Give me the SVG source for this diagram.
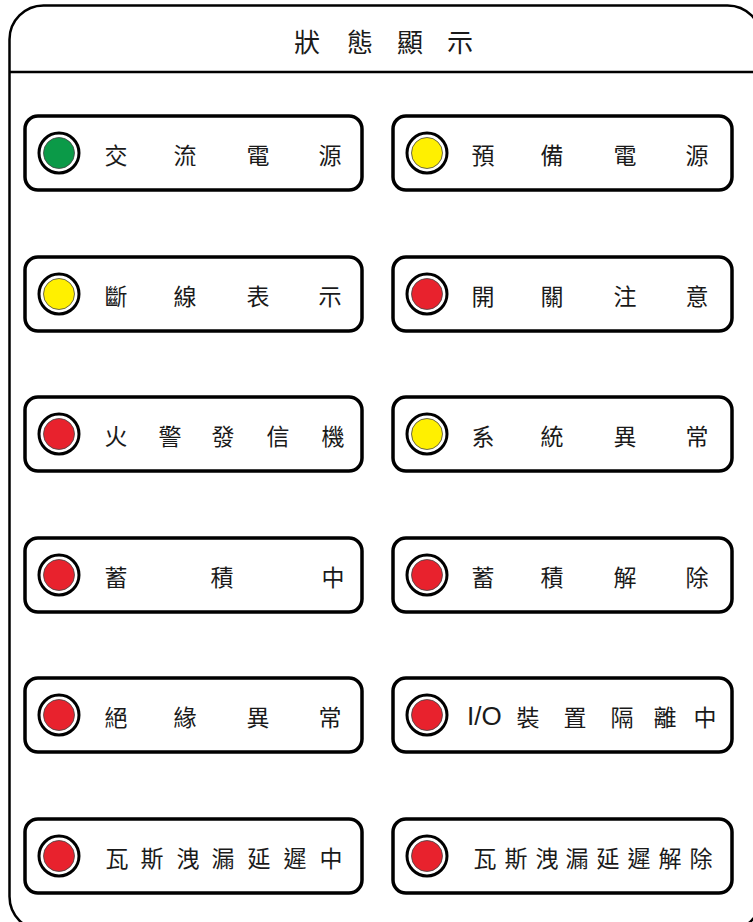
<svg xmlns="http://www.w3.org/2000/svg" width="753" height="922" viewBox="0 0 753 922">
<style>
.frame{fill:#fff;stroke:#000;stroke-width:2.5}
.box{fill:#fff;stroke:#000;stroke-width:3.5}
.ring{fill:#fff;stroke:#000;stroke-width:3}
.lamp{stroke:#444;stroke-width:0.8}
.g{fill:#0b9a48}.y{fill:#fff000}.r{fill:#e8222d}
.t{font-family:"Noto Sans CJK TC","Noto Sans CJK SC",sans-serif;font-size:23px;fill:#1a1a1a;text-anchor:middle}
.ttl{font-family:"Noto Sans CJK TC","Noto Sans CJK SC",sans-serif;font-size:26px;fill:#1a1a1a;text-anchor:middle}
.io{font-family:"Liberation Sans","DejaVu Sans",sans-serif;font-size:26px;fill:#1a1a1a}
</style>
<defs>
<g id="lampR"><circle class="ring" r="20"/><circle class="lamp r" r="15.5"/></g>
<g id="lampY"><circle class="ring" r="20"/><circle class="lamp y" r="15.5"/></g>
<g id="lampG"><circle class="ring" r="20"/><circle class="lamp g" r="15.5"/></g>
</defs>
<rect width="753" height="922" fill="#fff"/>
<g id="panel">
<rect class="frame" x="9.5" y="5.5" width="752" height="925" rx="34"/>
<line x1="9.5" y1="72" x2="753" y2="72" stroke="#000" stroke-width="2.5"/>
<text class="ttl" x="307 360 410 460" y="52">狀態顯示</text>
</g>
<g id="connectors"/>
<g id="n1"><rect class="box" x="25" y="116" width="337" height="74" rx="13"/><use href="#lampG" x="59" y="153"/><text class="t" x="116 185 258 330" y="164">交流電源</text></g>
<g id="n2"><rect class="box" x="393" y="116" width="339" height="74" rx="13"/><use href="#lampY" x="427" y="153"/><text class="t" x="483 552 625 697" y="164">預備電源</text></g>
<g id="n3"><rect class="box" x="25" y="257" width="337" height="74" rx="13"/><use href="#lampY" x="59" y="294"/><text class="t" x="116 185 258 330" y="305">斷線表示</text></g>
<g id="n4"><rect class="box" x="393" y="257" width="339" height="74" rx="13"/><use href="#lampR" x="427" y="294"/><text class="t" x="483 552 625 697" y="305">開關注意</text></g>
<g id="n5"><rect class="box" x="25" y="397" width="337" height="74" rx="13"/><use href="#lampR" x="59" y="434"/><text class="t" x="116 170 223 278 333" y="445">火警發信機</text></g>
<g id="n6"><rect class="box" x="393" y="397" width="339" height="74" rx="13"/><use href="#lampY" x="427" y="434"/><text class="t" x="483 552 625 697" y="445">系統異常</text></g>
<g id="n7"><rect class="box" x="25" y="538" width="337" height="74" rx="13"/><use href="#lampR" x="59" y="575"/><text class="t" x="116 222 333" y="586">蓄積中</text></g>
<g id="n8"><rect class="box" x="393" y="538" width="339" height="74" rx="13"/><use href="#lampR" x="427" y="575"/><text class="t" x="483 552 625 697" y="586">蓄積解除</text></g>
<g id="n9"><rect class="box" x="25" y="678" width="337" height="74" rx="13"/><use href="#lampR" x="59" y="715"/><text class="t" x="116 185 258 330" y="726">絕緣異常</text></g>
<g id="n10"><rect class="box" x="393" y="678" width="339" height="74" rx="13"/><use href="#lampR" x="427" y="715"/><text class="io" x="467" y="725">I/O</text><text class="t" x="528 575 622 665 705" y="726">裝置隔離中</text></g>
<g id="n11"><rect class="box" x="25" y="819" width="337" height="74" rx="13"/><use href="#lampR" x="59" y="856"/><text class="t" x="117 152 188 223 259 295 331" y="867">瓦斯洩漏延遲中</text></g>
<g id="n12"><rect class="box" x="393" y="819" width="339" height="74" rx="13"/><use href="#lampR" x="427" y="856"/><text class="t" x="485 516 547 577 608 639 670 701" y="867">瓦斯洩漏延遲解除</text></g>
</svg>
